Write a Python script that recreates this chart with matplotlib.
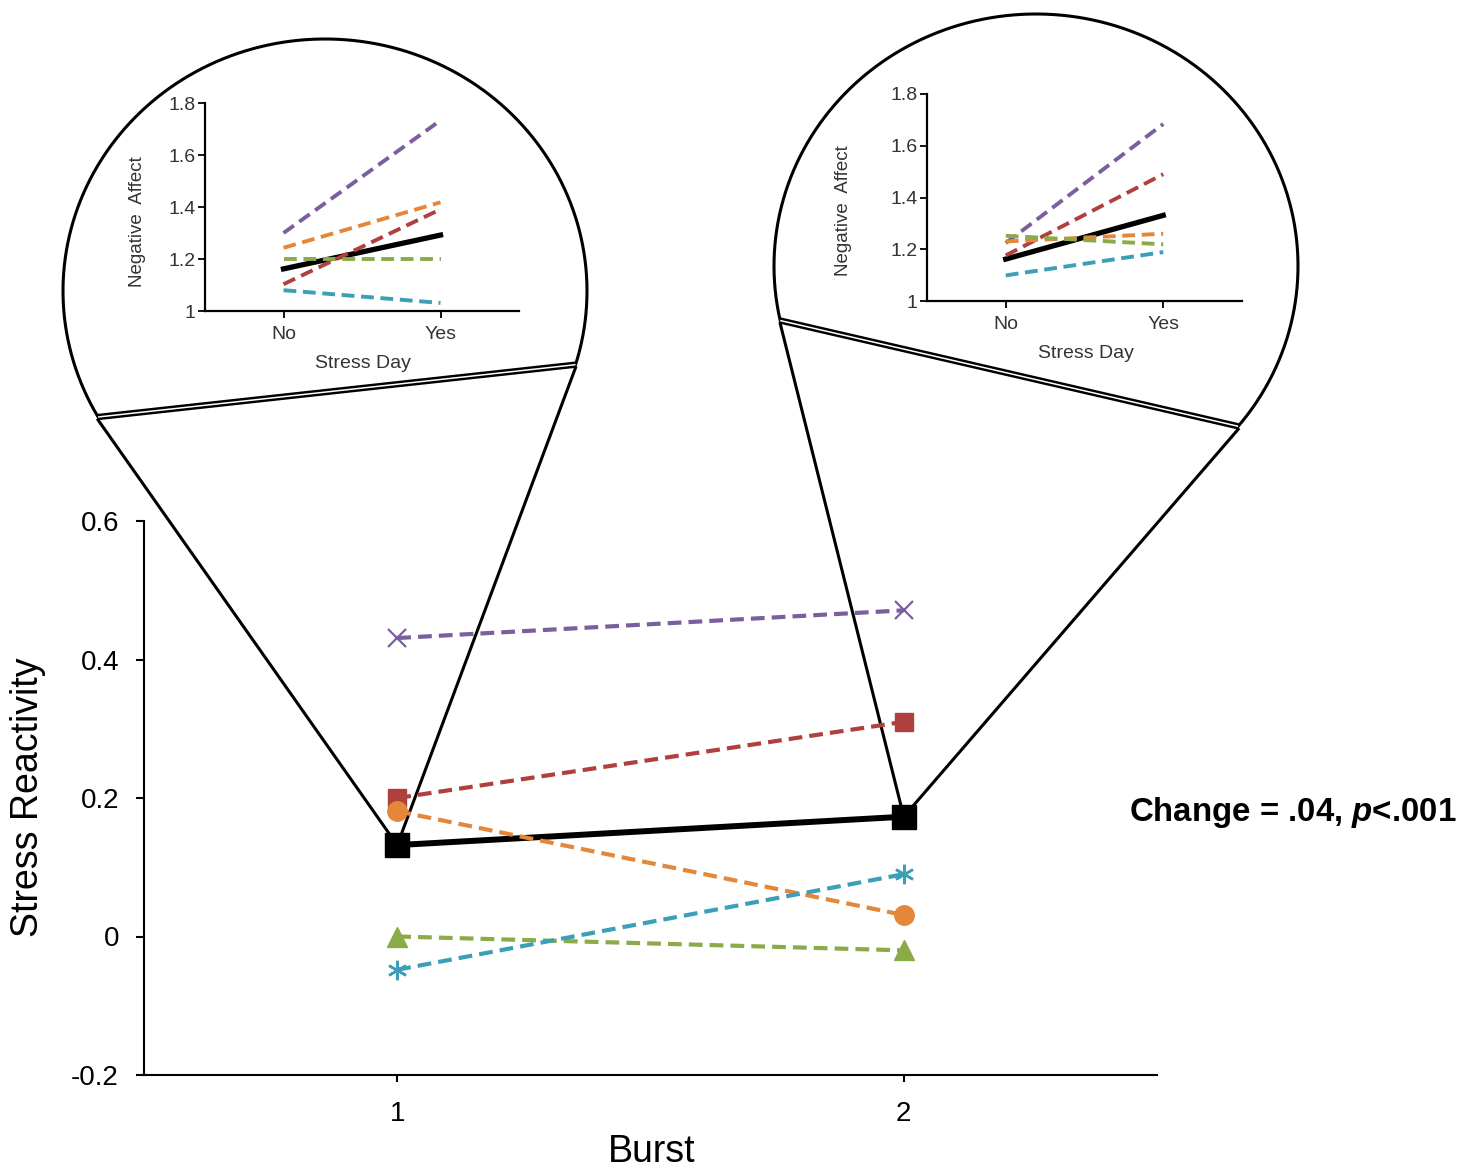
import numpy as np
import matplotlib.pyplot as plt

plt.rcParams['font.family'] = ['Liberation Sans', 'DejaVu Sans']
plt.rcParams['mathtext.fontset'] = 'custom'
plt.rcParams['mathtext.it'] = 'Liberation Sans:italic:bold'
plt.rcParams['mathtext.rm'] = 'Liberation Sans:bold'

W, H = 1463, 1171

# main panel: stress reactivity per burst
bursts = [1, 2]
burst_labels = ["1", "2"]
avg_react = [0.132, 0.173]
purple_react = [0.431, 0.471]
red_react = [0.200, 0.310]
orange_react = [0.181, 0.031]
green_react = [0.000, -0.020]
teal_react = [-0.048, 0.090]
main_yticks = [-0.2, 0.0, 0.2, 0.4, 0.6]
main_ylabels = ["-0.2", "0", "0.2", "0.4", "0.6"]

# insets: negative affect by stress day
stress_day = [0, 1]
day_labels = ["No", "Yes"]
b1_avg = [1.162, 1.292]
b1_purple = [1.300, 1.733]
b1_red = [1.103, 1.391]
b1_orange = [1.243, 1.418]
b1_green = [1.200, 1.200]
b1_teal = [1.080, 1.031]
b2_avg = [1.162, 1.331]
b2_purple = [1.224, 1.684]
b2_red = [1.176, 1.490]
b2_orange = [1.230, 1.260]
b2_green = [1.252, 1.219]
b2_teal = [1.099, 1.189]
inset_yticks = [1.0, 1.2, 1.4, 1.6, 1.8]
inset_ylabels = ["1", "1.2", "1.4", "1.6", "1.8"]

PURPLE = "#7B5E9E"
RED = "#B0403D"
ORANGE = "#E4873A"
GREEN = "#8BAA48"
TEAL = "#3C9FB8"
DASH = (0, (3.3, 1.7))


def fx(px):
    return px / W


def fy(py):
    return 1 - py / H


def box(l, t, r, b):
    return [fx(l), fy(b), fx(r) - fx(l), fy(t) - fy(b)]


fig = plt.figure(figsize=(W / 100, H / 100), dpi=100)

bg = fig.add_axes([0, 0, 1, 1], zorder=0)
bg.set_xlim(0, W)
bg.set_ylim(H, 0)
bg.axis('off')

# ---- main chart
ax = fig.add_axes(box(144, 521, 1157, 1075), zorder=1)
ax.patch.set_alpha(0)
ax.set_xlim(0.5, 2.5)
ax.set_ylim(-0.2, 0.6)

ax.plot(bursts, avg_react, color='black', lw=4.3, marker='s', ms=17, zorder=3)
main_series = [
    (purple_react, PURPLE, 'x', 13.5, 1.6),
    (red_react, RED, 's', 13, 1),
    (orange_react, ORANGE, 'o', 14, 1),
    (green_react, GREEN, '^', 15, 1),
    (teal_react, TEAL, (6, 2, 0), 14, 1.8),
]
for vals, c, m, ms, mew in main_series:
    ax.plot(bursts, vals, color=c, lw=3, ls=DASH, marker=m, ms=ms,
            mfc=c, mec=c, mew=mew, zorder=4)

ax.set_xticks(bursts, burst_labels)
ax.set_yticks(main_yticks, main_ylabels)
ax.tick_params(axis='y', direction='out', length=6, width=1.5, pad=12, labelsize=20)
ax.tick_params(axis='x', direction='out', length=5, width=1.5, pad=14, labelsize=20)
for side in ['top', 'right']:
    ax.spines[side].set_visible(False)
for side in ['left', 'bottom']:
    ax.spines[side].set_linewidth(1.5)

fig.text(fx(28), fy(797), "Stress Reactivity", rotation=90, fontsize=27,
         ha='center', va='center')
fig.text(fx(652), fy(1170), "Burst", fontsize=27, ha='center', va='bottom')
fig.text(fx(1129), fy(813), "Change = .04, $p$<.001", fontsize=23.8,
         fontweight='bold', ha='left', va='center')


# ---- magnifier outlines
def lens(cx, cy, rx, ry, t_right, t_left, apex_xy):
    t = np.radians(np.linspace(t_right, t_left, 400))
    x = cx + rx * np.cos(t)
    y = cy - ry * np.sin(t)
    bg.plot(x, y, color='black', lw=2.2)
    apex = bg.transData.inverted().transform(ax.transData.transform(apex_xy))
    left = (x[-1], y[-1])
    right = (x[0], y[0])
    bg.plot([left[0], right[0]], [left[1], right[1]], color='black', lw=4.6,
            solid_capstyle='butt')
    bg.plot([left[0], right[0]], [left[1], right[1]], color='white', lw=1.1,
            solid_capstyle='butt')
    bg.plot([left[0], apex[0]], [left[1] + 3, apex[1]], color='black', lw=2.2)
    bg.plot([right[0], apex[0]], [right[1] + 3, apex[1]], color='black', lw=2.2)


lens(325, 291, 262, 252, -17, 210, (bursts[0], avg_react[0]))
lens(1036, 266, 262, 252, -39.5, 192.5, (bursts[1], avg_react[1]))


# ---- insets
def inset(rect, avg, series, ylab_xy, xlab_xy):
    ia = fig.add_axes(rect, zorder=2)
    ia.patch.set_alpha(0)
    ia.set_xlim(-0.5, 1.5)
    ia.set_ylim(1.0, 1.8)
    ia.plot(stress_day, avg, color='black', lw=3.8, zorder=3)
    for vals, c in series:
        ia.plot(stress_day, vals, color=c, lw=2.8, ls=DASH, zorder=4)
    ia.set_xticks(stress_day, day_labels)
    ia.set_yticks(inset_yticks, inset_ylabels)
    ia.tick_params(axis='both', direction='out', length=5, width=1.3,
                   labelsize=14, labelcolor='#333333')
    ia.tick_params(axis='x', pad=6)
    ia.tick_params(axis='y', pad=2)
    for side in ['top', 'right']:
        ia.spines[side].set_visible(False)
    for side in ['left', 'bottom']:
        ia.spines[side].set_linewidth(1.6)
    fig.text(fx(ylab_xy[0]), fy(ylab_xy[1]), "Negative  Affect", rotation=90,
             fontsize=13.5, color='#333333', ha='center', va='center')
    fig.text(fx(xlab_xy[0]), fy(xlab_xy[1]), "Stress Day", fontsize=14,
             color='#333333', ha='center', va='center')


inset(box(205, 103, 519, 311), b1_avg,
      [(b1_purple, PURPLE), (b1_orange, ORANGE), (b1_red, RED),
       (b1_green, GREEN), (b1_teal, TEAL)],
      (138, 222), (363, 363))
inset(box(927, 94, 1242, 301), b2_avg,
      [(b2_purple, PURPLE), (b2_red, RED), (b2_orange, ORANGE),
       (b2_green, GREEN), (b2_teal, TEAL)],
      (844, 211), (1086, 353))

fig.savefig("out.png", dpi=100)
